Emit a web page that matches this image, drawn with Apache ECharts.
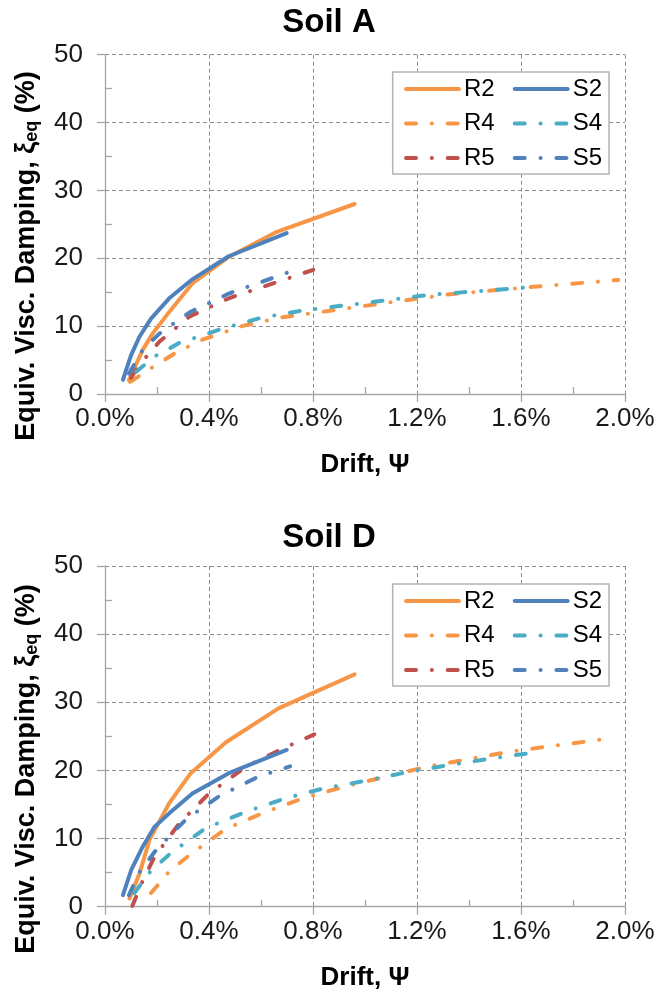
<!DOCTYPE html>
<html>
<head>
<meta charset="utf-8">
<script src="https://cdn.jsdelivr.net/npm/echarts@6/dist/echarts.min.js"></script>
<style>
  html, body { margin: 0; padding: 0; background: #fff; }
  #chart { width: 658px; height: 994px; }
</style>
</head>
<body>
<div id="chart"></div>
<script>
// Equivalent viscous damping vs. drift (drift in %, damping in %)
const panelTitles = ['Soil A', 'Soil D'];
const seriesNames = ['R2', 'R4', 'R5', 'S2', 'S4', 'S5'];

// Soil A
const A_R2 = [[0.092,2.0],[0.113,3.8],[0.145,6.5],[0.183,8.9],[0.247,12.1],[0.336,16.3],[0.476,20.2],[0.661,23.9],[0.960,28.0]];
const A_R4 = [[0.097,1.8],[0.177,3.8],[0.273,6.1],[0.374,8.0],[0.527,10.0],[0.680,11.3],[0.833,12.1],[1.058,13.3],[1.327,14.7],[1.647,15.8],[1.974,16.8]];
const A_R5 = [[0.100,2.4],[0.132,4.3],[0.209,7.7],[0.324,11.4],[0.476,14.1],[0.655,16.4],[0.801,18.3]];
const A_S2 = [[0.069,2.1],[0.100,5.7],[0.132,8.4],[0.177,11.1],[0.247,14.1],[0.336,16.9],[0.476,20.3],[0.699,23.7]];
const A_S4 = [[0.120,3.3],[0.194,5.6],[0.285,7.5],[0.441,9.5],[0.597,11.2],[0.757,12.3],[1.083,13.8],[1.244,14.6],[1.622,15.7]];
const A_S5 = [[0.092,3.0],[0.145,6.5],[0.209,8.9],[0.324,12.0],[0.476,14.8],[0.703,17.9]];

// Soil D
const D_R2 = [[0.094,1.2],[0.133,4.9],[0.171,9.8],[0.247,15.2],[0.330,19.6],[0.464,24.1],[0.667,29.1],[0.960,34.1]];
const D_R4 = [[0.177,2.0],[0.250,5.3],[0.336,7.9],[0.464,11.4],[0.617,13.9],[0.769,16.0],[0.930,17.7],[1.244,20.6],[1.564,22.8],[1.942,24.7]];
const D_R5 = [[0.105,0.1],[0.145,3.8],[0.190,7.3],[0.285,12.2],[0.400,16.6],[0.540,20.5],[0.678,23.1],[0.805,25.3]];
const D_S2 = [[0.069,1.7],[0.101,5.4],[0.145,8.8],[0.190,11.7],[0.247,13.7],[0.336,16.6],[0.476,19.6],[0.699,23.0]];
const D_S4 = [[0.113,2.0],[0.173,5.1],[0.254,7.9],[0.387,11.5],[0.540,13.9],[0.693,15.9],[0.846,17.4],[1.006,18.5],[1.167,19.8],[1.327,20.8],[1.494,21.8],[1.647,22.6]];
const D_S5 = [[0.092,1.7],[0.133,5.1],[0.196,8.3],[0.311,12.8],[0.438,16.2],[0.591,19.1],[0.712,20.6]];

const panelData = [
  [A_R2, A_R4, A_R5, A_S2, A_S4, A_S5],
  [D_R2, D_R4, D_R5, D_S2, D_S4, D_S5]
];

const FONT = "'Liberation Sans', Arial, sans-serif";
const ORANGE = '#F79646', BLUE = '#4F81BD', CYAN = '#4BACC6', RED = '#C0504D';
const DASH_DOT = [10, 15.8, 0.1, 15.8];
const styles = {
  R2: { color: ORANGE, type: 'solid' },
  R4: { color: ORANGE, type: DASH_DOT },
  R5: { color: RED, type: DASH_DOT },
  S2: { color: BLUE, type: 'solid' },
  S4: { color: CYAN, type: DASH_DOT },
  S5: { color: BLUE, type: DASH_DOT }
};

// panel geometry
const panels = [
  { top: 54.7, height: 339.3, titleTop: 1, yNameY: 256, legendTop: 72 },
  { top: 566, height: 340.7, titleTop: 516, yNameY: 769, legendTop: 584 }
];
const GRID_LEFT = 105, GRID_RIGHT = 33;
const AXIS_GRAY = '#a6a6a6';
const GRID_GRAY = '#8c8c8c';
const LINE_W = 4;

const grids = [], xAxes = [], yAxes = [], series = [], legends = [], titles = [], graphics = [];

panels.forEach((p, i) => {
  grids.push({ left: GRID_LEFT, right: GRID_RIGHT, top: p.top, height: p.height, containLabel: false });
  titles.push({
    text: panelTitles[i], left: 'center', top: p.titleTop,
    textStyle: { fontFamily: FONT, fontSize: 33, fontWeight: 'bold', color: '#000' }
  });
  xAxes.push({
    type: 'value', gridIndex: i, min: 0, max: 2.0, interval: 0.4,
    name: 'Drift, Ψ', nameLocation: 'middle', nameGap: 58,
    nameTextStyle: { fontFamily: FONT, fontSize: 26, fontWeight: 'bold', color: '#000' },
    axisLine: { show: true, onZero: false, lineStyle: { color: AXIS_GRAY, width: 1.3 } },
    axisTick: { show: true, length: 8, lineStyle: { color: AXIS_GRAY, width: 1.3 } },
    minorTick: { show: true, splitNumber: 2, length: -7, lineStyle: { color: AXIS_GRAY, width: 1.3 } },
    axisLabel: { fontFamily: FONT, fontSize: 26, color: '#1a1a1a', margin: 12,
      formatter: v => v.toFixed(1) + '%' },
    splitLine: { show: true, lineStyle: { color: GRID_GRAY, width: 1, type: [4, 3] } }
  });
  yAxes.push({
    type: 'value', gridIndex: i, min: 0, max: 50, interval: 10,
    axisLine: { show: true, onZero: false, lineStyle: { color: AXIS_GRAY, width: 1.3 } },
    axisTick: { show: true, length: 8, lineStyle: { color: AXIS_GRAY, width: 1.3 } },
    minorTick: { show: true, splitNumber: 2, length: -7, lineStyle: { color: AXIS_GRAY, width: 1.3 } },
    axisLabel: { fontFamily: FONT, fontSize: 26, color: '#1a1a1a', margin: 22 },
    splitLine: { show: true, lineStyle: { color: GRID_GRAY, width: 1, type: [4, 3] } }
  });
  seriesNames.forEach((name, k) => {
    series.push({
      name, type: 'line', xAxisIndex: i, yAxisIndex: i,
      data: panelData[i][k], symbol: 'none', showSymbol: false, smooth: false,
      z: 2 + (k >= 3 ? 1 : 0),
      lineStyle: { color: styles[name].color, width: LINE_W, type: styles[name].type, cap: 'round', join: 'round' },
      itemStyle: { color: styles[name].color },
      emphasis: { disabled: true }
    });
  });
  // legend: two columns of three entries
  [['R2', 'R4', 'R5', 404], ['S2', 'S4', 'S5', 512.7]].forEach(col => {
    legends.push({
      orient: 'vertical', left: col[3], top: p.legendTop + 5, padding: 0,
      data: col.slice(0, 3), itemWidth: 53, itemHeight: 24, itemGap: 10.5,
      selectedMode: false,
      itemStyle: { opacity: 0 },
      lineStyle: { width: LINE_W },
      textStyle: { fontFamily: FONT, fontSize: 24, color: '#000', lineHeight: 24, padding: 0 }
    });
  });
  graphics.push({
    type: 'rect', z: 3,
    shape: { x: 392.7, y: p.legendTop, width: 216.3, height: 102 },
    style: { fill: '#fff', stroke: '#b4b4b4', lineWidth: 1.5 }
  });
  graphics.push({
    type: 'text', z: 5,
    x: 27, y: p.yNameY, rotation: Math.PI / 2,
    style: {
      text: 'Equiv. Visc. Damping, ξ{sub|eq} (%)',
      align: 'center', verticalAlign: 'middle',
      fontFamily: FONT, fontSize: 27, fontWeight: 'bold', fill: '#000',
      rich: {
        sub: { fontFamily: FONT, fontSize: 18, fontWeight: 'bold', fill: '#000', verticalAlign: 'bottom', padding: [10, 0, 0, 0] }
      }
    }
  });
});

const chart = echarts.init(document.getElementById('chart'), null, { renderer: 'canvas' });
chart.setOption({
  backgroundColor: '#fff',
  animation: false,
  textStyle: { fontFamily: FONT },
  title: titles,
  grid: grids,
  xAxis: xAxes,
  yAxis: yAxes,
  legend: legends,
  graphic: graphics,
  series
});
</script>
</body>
</html>
